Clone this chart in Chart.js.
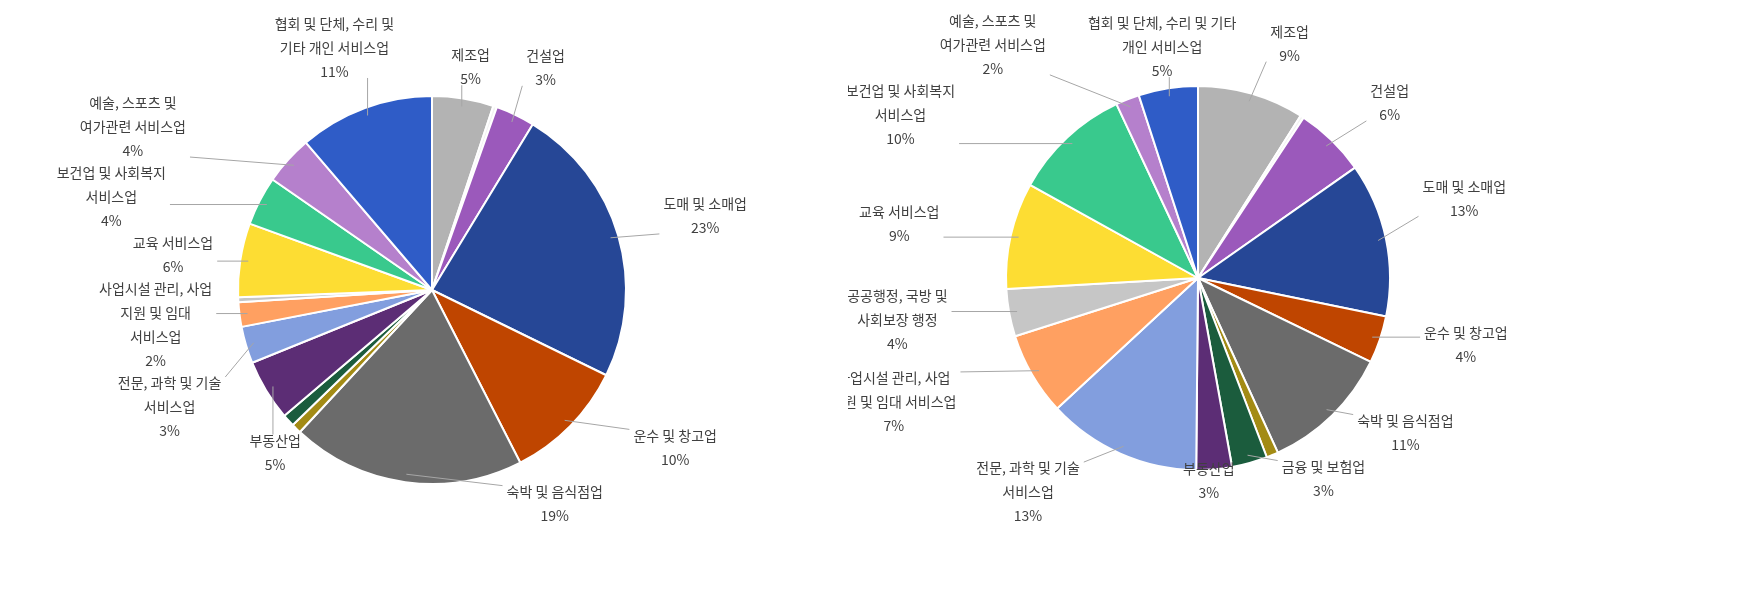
<!DOCTYPE html>
<html><head><meta charset="utf-8">
<script src="https://cdn.jsdelivr.net/npm/chart.js@4.4.0/dist/chart.umd.min.js"></script>
<style>
body{margin:0;background:#fff;width:1747px;height:605px;overflow:hidden;position:relative}
.box{position:absolute;top:0;height:605px}
</style></head><body>
<div class="box" style="left:0;width:864px"><canvas id="left"></canvas></div>
<div class="box" style="left:848px;width:700px"><canvas id="right"></canvas></div>
<script>
const leftLabels = ["제조업", "", "건설업", "도매 및 소매업", "운수 및 창고업", "숙박 및 음식점업", "", "", "부동산업",
  "전문, 과학 및 기술\n서비스업", "사업시설 관리, 사업\n지원 및 임대\n서비스업", "", "교육 서비스업",
  "보건업 및 사회복지\n서비스업", "예술, 스포츠 및\n여가관련 서비스업", "협회 및 단체, 수리 및\n기타 개인 서비스업"];
const leftValues = [5, 0.3, 3.2, 23, 10, 19, 0.8, 1, 5, 3, 2, 0.4, 6, 4, 4, 11];
const leftPct = ["5%", "", "3%", "23%", "10%", "19%", "", "", "5%", "3%", "2%", "", "6%", "4%", "4%", "11%"];

const rightLabels = ["제조업", "", "건설업", "도매 및 소매업", "운수 및 창고업", "숙박 및 음식점업", "", "금융 및 보험업", "부동산업",
  "전문, 과학 및 기술\n서비스업", "사업시설 관리, 사업\n지원 및 임대 서비스업", "공공행정, 국방 및\n사회보장 행정", "교육 서비스업",
  "보건업 및 사회복지\n서비스업", "예술, 스포츠 및\n여가관련 서비스업", "협회 및 단체, 수리 및 기타\n개인 서비스업"];
const rightValues = [9, 0.3, 6, 13, 4, 11, 1, 3, 3, 13, 7, 4, 9, 10, 2, 5];
const rightPct = ["9%", "", "6%", "13%", "4%", "11%", "", "3%", "3%", "13%", "7%", "4%", "9%", "10%", "2%", "5%"];

// label nudges [dx, dy] (label placement only)
const leftNudge = [[0, 20], [0, 0], [10, 0], [20, -5], [55, -15], [160, -30], [0, 0], [0, 0], [55, 35],
  [0, 25], [0, 0], [0, 0], [0, 0], [-75, 0], [-95, 10], [0, 0]];
const rightNudge = [[25, 0], [0, 0], [25, 0], [10, -30], [20, -12], [20, -20], [0, 0], [55, -37], [-10, -40],
  [-60, -20], [-60, -5], [-35, -5], [-45, 0], [-110, -35], [-105, 5], [10, 22]];

const colors = ["#b3b3b3", "#f2f2f2", "#9b59bb", "#264796", "#bf4500", "#6b6b6b", "#a38b14", "#1b5c3d", "#5c2d75",
  "#829ede", "#ffa061", "#c6c6c6", "#fddd33", "#39c98d", "#b580cc", "#2f5cc7"];

const outsideLabels = {
  id: "outsideLabels",
  afterDraw(chart) {
    const ctx = chart.ctx;
    const meta = chart.getDatasetMeta(0);
    const opt = chart.options.plugins.outsideLabels;
    const lh = 24;
    ctx.save();
    ctx.font = "14px 'Noto Sans CJK KR', 'Noto Sans', sans-serif";
    const items = [];
    meta.data.forEach((arc, i) => {
      if (!opt.texts[i]) return;
      const mid = (arc.startAngle + arc.endAngle) / 2;
      const c = Math.cos(mid), s = Math.sin(mid);
      const lines = opt.texts[i].split("\n").concat([opt.pcts[i]]);
      const w = Math.max(...lines.map(l => ctx.measureText(l).width));
      const h = lines.length * lh;
      const d = arc.outerRadius + 28;
      const n = opt.nudge[i] || [0, 0];
      items.push({
        lines, w, h, c, s, cx: arc.x, cy: arc.y, r: arc.outerRadius,
        x: arc.x + c * d + c * w / 2 + n[0], y: arc.y + s * d + s * h / 2 + n[1]
      });
    });
    // avoid overlaps: push down blocks that overlap horizontally
    items.slice().sort((a, b) => a.y - b.y).forEach((cur, k, arr) => {
      for (let j = 0; j < k; j++) {
        const p = arr[j];
        if (Math.abs(p.x - cur.x) < (p.w + cur.w) / 2 + 4) {
          const minY = p.y + p.h / 2 + cur.h / 2 - 2;
          if (cur.y < minY && cur.y > p.y - p.h / 2) cur.y = minY;
        }
      }
    });
    items.forEach(it => {
      const px = it.cx + it.c * (it.r - 8), py = it.cy + it.s * (it.r - 8);
      const l = it.x - it.w / 2 - 4, rr = it.x + it.w / 2 + 4, t = it.y - it.h / 2 + 6, b = it.y + it.h / 2 - 6;
      const ex = Math.min(Math.max(px, l), rr), ey = Math.min(Math.max(py, t), b);
      if (Math.hypot(ex - px, ey - py) > 16) {
        ctx.strokeStyle = "#a6a6a6";
        ctx.lineWidth = 1;
        ctx.beginPath();
        ctx.moveTo(px, py);
        ctx.lineTo(ex, ey);
        ctx.stroke();
      }
      ctx.fillStyle = "#404040";
      ctx.textAlign = "center";
      ctx.textBaseline = "middle";
      it.lines.forEach((ln, k) => {
        ctx.fillText(ln, it.x, it.y - it.h / 2 + lh / 2 + k * lh);
      });
    });
    ctx.restore();
  }
};

function makePie(id, values, texts, pcts, nudge, pad) {
  new Chart(document.getElementById(id), {
    type: "pie",
    data: {
      labels: texts,
      datasets: [{ data: values, backgroundColor: colors, borderColor: "#ffffff", borderWidth: 2 }]
    },
    options: {
      responsive: true,
      maintainAspectRatio: false,
      animation: false,
      layout: { padding: pad },
      plugins: {
        legend: { display: false },
        tooltip: { enabled: false },
        outsideLabels: { texts: texts, pcts: pcts, nudge: nudge }
      }
    },
    plugins: [outsideLabels]
  });
}

makePie("left", leftValues, leftLabels, leftPct, leftNudge, { top: 95, bottom: 120, left: 0, right: 0 });
makePie("right", rightValues, rightLabels, rightPct, rightNudge, { top: 85, bottom: 134, left: 0, right: 0 });
</script>
</body></html>
